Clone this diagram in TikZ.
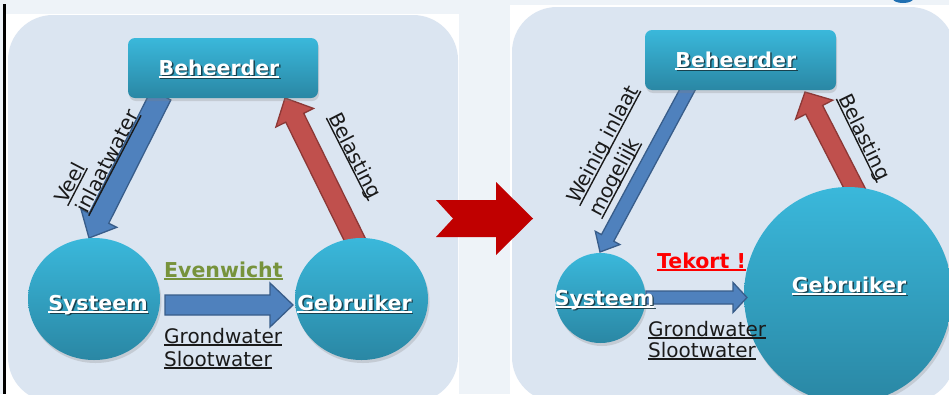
\documentclass[tikz,border=0pt]{standalone}
\usepackage{fontspec}
\setmainfont{DejaVu Sans}
\usetikzlibrary{calc,shapes.geometric,shadows}
\definecolor{bgc}{HTML}{EEF3F8}
\definecolor{panelc}{HTML}{DBE5F1}
\definecolor{tealtop}{HTML}{3AB8DB}
\definecolor{tealbot}{HTML}{2A87A4}
\definecolor{bluef}{HTML}{4F81BD}
\definecolor{bluel}{HTML}{385D8A}
\definecolor{redf}{HTML}{C0504D}
\definecolor{redl}{HTML}{8C3836}
\definecolor{bigred}{HTML}{C00000}
\definecolor{evgreen}{HTML}{77933C}
\definecolor{txtc}{HTML}{1A1A1A}
\definecolor{shadowc}{HTML}{15323C}
\definecolor{dotblue}{HTML}{1F6FB2}
\newsavebox\ulbox
\newcommand\ulx[1]{\sbox\ulbox{#1}\rlap{\rule[-2.6pt]{\wd\ulbox}{1.4pt}}\usebox\ulbox}
% style, tail, tip, half shaft, half head, head length
\newcommand\blockarrow[6]{%
  \coordinate (hb) at ($(#3)!#6!(#2)$);
  \draw[#1] ($(#2)!#4!90:(#3)$) -- ($(hb)!#4!90:(#3)$) -- ($(hb)!#5!90:(#3)$)
    -- (#3) -- ($(hb)!#5!-90:(#3)$) -- ($(hb)!#4!-90:(#3)$) -- ($(#2)!#4!-90:(#3)$) -- cycle;}
\newcommand\wtext[3]{%
  \node[slbl, anchor=base] at ($(#2)+(1.4,1.7)$) {\ulx{#3}};
  \node[wlbl, anchor=base] (#1) at (#2) {\ulx{#3}};}
\tikzset{
  lbl/.style={inner sep=0pt, font=\fontsize{20}{22}\selectfont, text=txtc},
  blbl/.style={inner sep=0pt, font=\fontsize{20.5}{22}\selectfont\bfseries},
  wlbl/.style={blbl, text=white},
  slbl/.style={blbl, text=shadowc, opacity=0.85},
  disc/.style={ellipse, draw=none, inner sep=0pt, top color=tealtop, bottom color=tealbot,
    drop shadow={opacity=0.25, shadow xshift=1.5pt, shadow yshift=-3pt}},
  boxc/.style={rectangle, rounded corners=7pt, draw=none, inner sep=0pt,
    top color=tealtop, bottom color=tealbot, minimum width=190pt, minimum height=60pt,
    drop shadow={opacity=0.25, shadow xshift=1pt, shadow yshift=-3pt}},
  bluearr/.style={fill=bluef, draw=bluel, line width=1.3pt, line join=miter},
  redarr/.style={fill=redf, draw=redl, line width=1.3pt, line join=miter},
}
\begin{document}
\begin{tikzpicture}[x=1pt,y=-1pt]
\useasboundingbox (0,0) rectangle (949,394);
% background and panels
\fill[bgc] (0,0) rectangle (949,394);
\fill[black] (3,4) rectangle (6,394);
\fill[white] (6,14) rectangle (459,394);
\fill[panelc, rounded corners=45pt] (8,15) rectangle (458,402);
\fill[white] (510,5) rectangle (949,394);
\fill[panelc, rounded corners=45pt] (512,7) rectangle (955,402);
\fill[dotblue] (903,-1) ellipse [x radius=10, y radius=4];
% big transition arrow
\fill[bigred] (436,200) -- (496,200) -- (496,182) -- (533,218.5) -- (496,255)
  -- (496,237) -- (436,237) -- (453,218.5) -- cycle;

% ---------- left panel ----------
\coordinate (la1t) at (161,95);
\coordinate (la1h) at (89,238);
\coordinate (la2t) at (358,246);
\coordinate (la2h) at (285,98);
\blockarrow{bluearr}{la1t}{la1h}{11pt}{20pt}{22pt}
\blockarrow{redarr}{la2t}{la2h}{10pt}{21pt}{22pt}
\node[boxc] (lbeh) at (223,68) {};
\node[disc, minimum width=132pt, minimum height=122pt] (lsys) at (94,299) {};
\node[disc, minimum width=133pt, minimum height=122pt] (lgeb) at (361.5,299) {};
\coordinate (la3t) at (165,305);
\coordinate (la3h) at (293,305);
\blockarrow{bluearr}{la3t}{la3h}{10pt}{22pt}{23pt}
\wtext{tlbeh}{219,75}{Beheerder}
\wtext{tlsys}{98,310}{Systeem}
\wtext{tlgeb}{354.5,310}{Gebruiker}
\node[blbl, text=evgreen, anchor=base west] (tev) at (164,277) {\ulx{Evenwicht}};
\node[lbl, anchor=base west] (tgr1) at (164,343) {\ulx{Grondwater}};
\node[lbl, anchor=base west] (tsl1) at (164,366) {\ulx{Slootwater}};
\node[lbl, anchor=base west, rotate=62.5] (tveel) at (66,205) {\ulx{Veel}};
\node[lbl, anchor=base west, rotate=62.5] (tinl) at (87,215) {\ulx{inlaatwater}};
\node[lbl, anchor=base west, rotate=-63] (tbel1) at (328,117) {\ulx{Belasting}};

% ---------- right panel ----------
\coordinate (ra1t) at (690,85);
\coordinate (ra1h) at (600,252);
\coordinate (ra2t) at (858,195);
\coordinate (ra2h) at (805,92);
\blockarrow{bluearr}{ra1t}{ra1h}{7pt}{14pt}{16pt}
\blockarrow{redarr}{ra2t}{ra2h}{9.5pt}{21pt}{20pt}
\node[boxc, minimum width=191pt] (rbeh) at (740.5,60) {};
\node[disc, minimum width=90pt, minimum height=90pt] (rsys) at (600.5,298) {};
\node[disc, minimum width=208pt, minimum height=216pt] (rgeb) at (848,295) {};
\coordinate (ra3t) at (646,297.5);
\coordinate (ra3h) at (747,297.5);
\blockarrow{bluearr}{ra3t}{ra3h}{6.5pt}{15pt}{14pt}
\wtext{trbeh}{735.8,67}{Beheerder}
\wtext{trsys}{604.5,305}{Systeem}
\wtext{trgeb}{849,292}{Gebruiker}
\node[blbl, text=red, anchor=base] (ttek) at (701.5,268) {\ulx{Tekort !}};
\node[lbl, anchor=base west] (tgr2) at (648,336) {\ulx{Grondwater}};
\node[lbl, anchor=base west] (tsl2) at (648,357) {\ulx{Slootwater}};
\node[lbl, anchor=base west, rotate=62] (twei) at (578,205) {\ulx{Weinig inlaat}};
\node[lbl, anchor=base west, rotate=62] (tmog) at (600,218) {\ulx{mogelijk}};
\node[lbl, anchor=base west, rotate=-64] (tbel2) at (838,98) {\ulx{Belasting}};
\end{tikzpicture}
\end{document}
